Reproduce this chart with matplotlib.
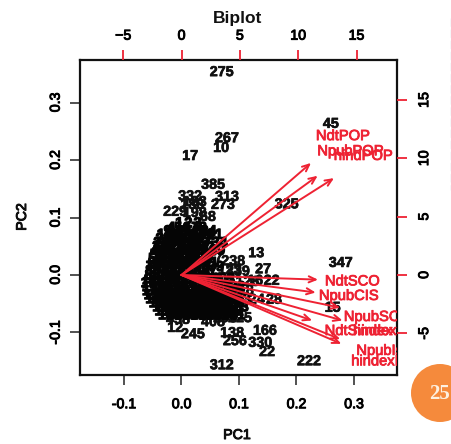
import matplotlib
matplotlib.use("Agg")
import matplotlib.pyplot as plt
from matplotlib.patches import Circle
import matplotlib.patheffects as pe

plt.rcParams['font.family'] = ['Liberation Sans', 'DejaVu Sans']

# --- individually readable observations ---
named_ids = [275,267,10,17,385,313,273,332,183,188,229,198,68,45,325,13,347,27,22,16,28,24,15,166,330,
             22,222,312,245,12,138,256,408,225,295,438,238,77,123,339,128,218,140]
named_pc1 = [.070,.079,.069,.015,.055,.079,.072,.015,.023,.019,-.011,.023,.046,.260,.183,.130,.277,.142,.157,.128,.161,.131,.263,.145,.137,
             .149,.222,.070,.020,-.011,.088,.093,.055,.102,.076,-.006,.090,.058,.084,.098,.115,.105,.085]
named_pc2 = [.353,.238,.221,.207,.157,.136,.122,.137,.127,.122,.110,.108,.101,.263,.123,.038,.021,.010,-.010,-.010,-.043,-.043,-.057,-.097,-.118,
             -.134,-.150,-.157,-.103,-.092,-.101,-.115,-.082,-.075,-.075,-.078,.024,.030,.009,.006,-.012,-.027,-.055]

# --- dense overlapped cloud of observations, row by row ---
cloud_pc2 = [.090,.082,.076,.070,.063,.056,.049,.042,.035,.028,.021,.014,.007,0,-.007,-.014,-.021,-.028,-.035,-.042,-.049,-.056,-.063,-.070]
cloud_pc1 = [
    [-.004,.012,.028],
    [-.018,-.006,.009,.024,.037],
    [-.024,-.010,.004,.019,.033,.047],
    [-.029,-.015,.001,.014,.030,.044,.058],
    [-.031,-.018,-.004,.011,.024,.041],
    [-.035,-.022,-.007,.006,.021,.034,.066],
    [-.037,-.025,-.011,.003,.015,.029,.046],
    [-.040,-.026,-.012,.002,.016,.031,.048,.062],
    [-.041,-.029,-.014,-.001,.013,.027,.041],
    [-.044,-.030,-.016,-.002,.012,.026,.040],
    [-.045,-.032,-.019,-.005,.009,.024,.037,.050],
    [-.048,-.034,-.020,-.006,.008,.022,.036,.060],
    [-.049,-.036,-.021,-.008,.007,.021,.035,.048],
    [-.050,-.036,-.022,-.008,.006,.020,.034],
    [-.051,-.037,-.023,-.009,.005,.019,.033,.047,.072],
    [-.050,-.036,-.022,-.008,.006,.020,.034,.050,.070],
    [-.049,-.035,-.021,-.007,.007,.021,.035,.051,.066,.090],
    [-.048,-.034,-.020,-.006,.008,.022,.036,.050,.065,.080],
    [-.045,-.031,-.017,-.003,.011,.025,.039,.053,.067,.083],
    [-.042,-.028,-.014,.000,.014,.028,.042,.056,.070,.085,.100],
    [-.036,-.023,-.009,.005,.019,.033,.047,.061,.075,.089],
    [-.030,-.016,-.002,.012,.026,.040,.054,.068,.082,.096],
    [-.026,-.012,.003,.017,.031,.045,.059,.073,.086],
    [-.020,-.006,.008,.022,.036,.050,.064,.078,.090],
]

# --- variable loadings (top / right scale) ---
var_names = ['NdtPOP','NpubPOP','hindPOP','NdtSCO','NpubCIS','NpubSCO','NdtSindex','hindexS','NpubIs','hindexI']
load_x = [11.1,11.67,13.07,11.7,11.5,13.6,11.2,13.8,13.6,13.7]
load_y = [9.6,8.5,8.3,-0.4,-1.5,-2.8,-3.9,-3.9,-5.5,-5.9]
label_x = [13.85,14.5,15.6,14.65,14.35,16.8,15.2,17.0,17.0,16.6]
label_y = [11.9,10.6,10.2,-0.55,-1.8,-3.6,-4.8,-4.8,-6.5,-7.4]

x_ticks = [-0.1,0.0,0.1,0.2,0.3]
y_ticks = [-0.1,0.0,0.1,0.2,0.3]
top_ticks = [-5,0,5,10,15]
right_ticks = [-5,0,5,10,15]
RED = '#ee2233'
W, H = 451, 444

fig = plt.figure(figsize=(W/100, H/100), dpi=100, facecolor='white')
ax = fig.add_axes([80/W, 1-375/H, 317/W, 315/H])
ax.set_xlim(-.1765, .375)
ax.set_ylim(-.174, .374)

# secondary scale axes for the loadings
ax2 = fig.add_axes(ax.get_position(), frameon=False)
ax2.set_xlim(-8.70, 18.47)
ax2.set_ylim(-8.57, 18.42)
ax2.xaxis.tick_top(); ax2.yaxis.tick_right()
ax2.set_xticks(top_ticks); ax2.set_yticks(right_ticks)
ax2.set_yticklabels([str(v) for v in right_ticks], rotation=90, va='center')

fs_tick = 10.2
ax.set_xticks(x_ticks); ax.set_yticks(y_ticks)
ax.set_xticklabels([f'{v:.1f}' for v in x_ticks])
ax.set_yticklabels([f'{v:.1f}' for v in y_ticks], rotation=90, va='center')
stroke = [pe.withStroke(linewidth=0.7, foreground='black')]
ax.tick_params(axis='both', length=7, width=1.1, color='#222222', labelsize=fs_tick, pad=9)
ax.tick_params(axis='y', pad=5.5)
ax2.tick_params(axis='both', length=7, width=1.3, color=RED, labelsize=fs_tick, pad=7.5)
ax2.tick_params(axis='x', pad=5.5)
for a in (ax, ax2):
    for t in a.get_xticklabels() + a.get_yticklabels():
        t.set_path_effects(stroke)
for s in ax.spines.values():
    s.set_linewidth(1.6); s.set_color('#111111')

# observations
num_stroke = [pe.withStroke(linewidth=0.5, foreground='#111111')]
cloud_stroke = [pe.withStroke(linewidth=0.9, foreground='#050505')]
for i, x, y in zip(named_ids, named_pc1, named_pc2):
    ax.text(x, y, str(i), ha='center', va='center', fontsize=10.3, fontweight='bold', color='#111111',
            clip_on=True, path_effects=num_stroke)
num = 1
for y, row in zip(cloud_pc2, cloud_pc1):
    for x in row:
        ax.text(x, y, str(num), ha='center', va='center', fontsize=10.3, fontweight='bold', color='#050505',
                clip_on=True, path_effects=cloud_stroke)
        num += 1

# loadings
red_stroke = [pe.withStroke(linewidth=0.6, foreground=RED)]
for n, x, y, lx, ly in zip(var_names, load_x, load_y, label_x, label_y):
    ax2.annotate('', xy=(x, y), xytext=(0, 0),
                 arrowprops=dict(arrowstyle='->,head_length=0.5,head_width=0.22', color=RED, lw=1.4,
                                 shrinkA=0, shrinkB=0))
    ax2.text(lx, ly, n, ha='center', va='center', fontsize=10.6, color=RED, clip_on=True, path_effects=red_stroke)

fig.text(238/W, 1-18/H, 'Biplot', ha='center', va='center', fontsize=12.5, fontweight='bold', color='#111111')
fig.text(237/W, 1-435/H, 'PC1', ha='center', va='center', fontsize=fs_tick, color='#111111', path_effects=stroke)
fig.text(22/W, 1-217/H, 'PC2', ha='center', va='center', rotation=90, fontsize=fs_tick, color='#111111', path_effects=stroke)

# page decoration: orange badge at the lower right
deco = fig.add_axes([0, 0, 1, 1], frameon=False)
deco.set_xlim(0, W); deco.set_ylim(H, 0); deco.axis('off')
deco.add_patch(Circle((440, 393), 29, color='#F58A3C', lw=0))
deco.text(440, 394, '25', ha='center', va='center', color='#fdf0e0', fontsize=15, fontweight='bold', family='Liberation Serif')
deco.plot([450.5, 450.5], [18, 190], color='#d5dbe3', lw=1, ls=(0, (6, 2)))

fig.savefig('out.png', dpi=100)
